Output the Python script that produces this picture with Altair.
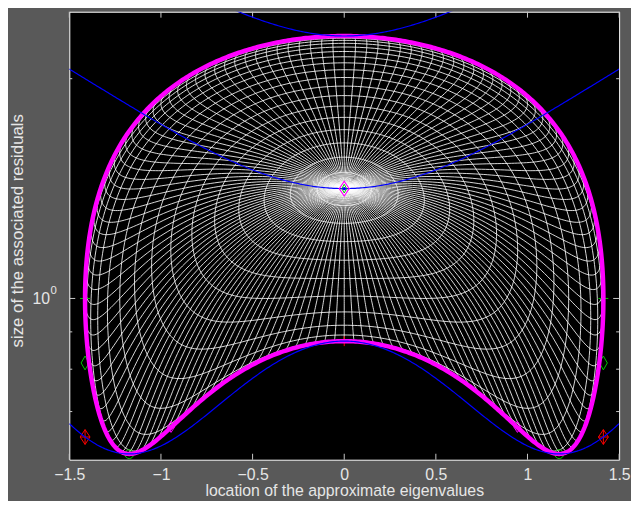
import numpy as np
import pandas as pd
import altair as alt

alt.data_transformers.disable_max_rows()

# ---- values -------------------------------------------------------------
# 2x2 matrix behind the picture: Hermitian part has eigenvalues +-1.414,
# singular values 2.288 / 0.874, residual of the start vector e1 = 1.414
A_REAL = [[0.0, 1.7678], [1.0607, 0.0]]
A_IMAG = [[0.7071, 0.6124], [0.6124, -0.7071]]

LOOP_STEP_DEG = 6.0     # spacing of the closed white curves
RAY_STEP_DEG = 2.5      # spacing of the white curves leaving the centre

X_DOMAIN = [-1.5, 1.5]
Y_DOMAIN = [0.6014, 2.4703]
X_TICKS = [-1.5, -1.0, -0.5, 0.0, 0.5, 1.0, 1.5]
Y_MAJOR_TICKS = [1.0]
Y_MINOR_TICKS = [0.7, 0.8, 0.9, 2.0]

RED_DIAMOND_X = [-1.414, 1.414]
RED_DIAMOND_Y = [0.646, 0.646]
GREEN_DIAMOND_X = [-1.414, 1.414]
GREEN_DIAMOND_Y = [0.816, 0.816]
GREEN_CIRCLE_X = [-1.173, 1.173]
GREEN_CIRCLE_Y = [0.612, 0.612]
MAGENTA_DIAMOND_X = [-0.945, 0.945]
MAGENTA_DIAMOND_Y = [0.667, 0.667]
GREEN_PLUS_X = [-1.414, 1.414]
GREEN_PLUS_Y = [1.0, 1.0]
RED_PLUS_X = [0.0]
RED_PLUS_Y = [0.874]
CENTER_X = [0.0]
CENTER_Y = [1.414]

# ---- geometry --------------------------------------------------------------
A = np.array(A_REAL) + 1j * np.array(A_IMAG)


def rq(alpha, beta):
    u1 = np.cos(alpha / 2)
    u2 = np.exp(1j * beta) * np.sin(alpha / 2)
    a1 = A[0, 0] * u1 + A[0, 1] * u2
    a2 = A[1, 0] * u1 + A[1, 1] * u2
    th = (np.conj(u1) * a1 + np.conj(u2) * a2).real
    r = np.sqrt(np.abs(a1 - th * u1) ** 2 + np.abs(a2 - th * u2) ** 2)
    return th, r


sig = [np.array([[0, 1], [1, 0]]), np.array([[0, -1j], [1j, 0]]), np.array([[1, 0], [0, -1]])]
Hm = (A + A.conj().T) / 2
Gm = A.conj().T @ A
h = np.array([np.trace(Hm @ s).real / 2 for s in sig])
g = np.array([np.trace(Gm @ s).real / 2 for s in sig])
n = np.cross(h, g)
n = n / np.linalg.norm(n)
if n[2] < 0:
    n = -n
nxy = np.hypot(n[0], n[1])
bstar = np.arctan2(n[1], n[0])

rows = []
# curves leaving the start vector, up to the fold
for j, b in enumerate(np.deg2rad(np.arange(0, 360 - 1e-9, RAY_STEP_DEG))):
    p = n[0] * np.cos(b) + n[1] * np.sin(b)
    af = np.arctan2(n[2], -p)
    als = np.linspace(0, af, 81)
    th, r = rq(als, np.full_like(als, b))
    rows.append(pd.DataFrame({"x": th, "r": r, "cid": f"R{j}", "k": np.arange(len(als))}))
# curves at fixed distance from the start vector
for i, a in enumerate(np.deg2rad(np.arange(LOOP_STEP_DEG, 180, LOOP_STEP_DEG))):
    thr = -n[2] * np.cos(a) / (np.sin(a) * nxy)
    if thr >= 1:
        continue
    if thr <= -1:
        bs = np.linspace(0, 2 * np.pi, 361)
    else:
        d = np.arccos(thr)
        bs = np.linspace(bstar - d, bstar + d, max(30, int(np.rad2deg(2 * d) * 1.2)))
    th, r = rq(np.full_like(bs, a), bs)
    rows.append(pd.DataFrame({"x": th, "r": r, "cid": f"L{i}", "k": np.arange(len(bs))}))
mesh_df = pd.concat(rows, ignore_index=True).round(4)

# boundary (fold): great circle through Hermitian-part and A*A directions
ea = h / np.linalg.norm(h)
gp = g - g.dot(ea) * ea
eb = gp / np.linalg.norm(gp)
t = np.linspace(0, 2 * np.pi, 721)
S = np.outer(np.cos(t), ea) + np.outer(np.sin(t), eb)
bth, br = rq(np.arccos(np.clip(S[:, 2], -1, 1)), np.arctan2(S[:, 1], S[:, 0]))
bound_df = pd.DataFrame({"x": bth, "r": br, "k": np.arange(len(t))}).round(4)

xs = np.linspace(-1.5, 1.5, 301)
sv = np.array([np.linalg.svd(A - x * np.eye(2), compute_uv=False) for x in xs])
start = np.array([np.linalg.norm((A - x * np.eye(2))[:, 0]) for x in xs])
blue_df = pd.concat([
    pd.DataFrame({"x": xs, "r": start, "cid": "b1"}),
    pd.DataFrame({"x": xs, "r": sv[:, 0], "cid": "b2"}),
    pd.DataFrame({"x": xs, "r": sv[:, 1], "cid": "b3"}),
], ignore_index=True).round(4)

# ---- style -----------------------------------------------------------------
W, H = 556, 453
BG = "#595959"
TXT = "#e6e6e6"
TICK = "#c8c8c8"
FONT = "Liberation Sans"

xsc = alt.Scale(domain=X_DOMAIN, nice=False, zero=False)
ysc = alt.Scale(type="log", domain=Y_DOMAIN, nice=False)

xaxis = alt.Axis(values=X_TICKS, format="~g", ticks=False, domain=False, grid=False,
                 labelFont=FONT, labelFontSize=16, labelColor=TXT, labelPadding=7,
                 labelFlush=False, labelOverlap=False,
                 title="location of the approximate eigenvalues", titleFont=FONT,
                 titleFontSize=16, titleFontWeight="normal", titleColor=TXT,
                 titleY=36, titleBaseline="alphabetic")
yaxis = alt.Axis(values=[1.0], labelExpr="'10'", ticks=False, domain=False, grid=False,
                 labelFont=FONT, labelFontSize=16, labelColor=TXT, labelPadding=20,
                 title="size of the associated residuals", titleFont=FONT,
                 titleFontSize=17, titleFontWeight="normal", titleColor=TXT,
                 titleX=-47, titleY=221, titleAngle=270, titleBaseline="alphabetic",
                 titleAlign="center")


def XE(f):
    return alt.X(f"{f}:Q", scale=xsc, axis=xaxis)


def YE(f):
    return alt.Y(f"{f}:Q", scale=ysc, axis=yaxis)


mesh = alt.Chart(mesh_df).mark_line(color="white", strokeWidth=0.85, clip=True).encode(
    x=XE("x"), y=YE("r"), detail="cid:N", order="k:Q")

xt = pd.DataFrame({"v": X_TICKS})
ytM = pd.DataFrame({"v": Y_MAJOR_TICKS})
ytm = pd.DataFrame({"v": Y_MINOR_TICKS})
rule = dict(color=TICK, strokeWidth=1)
ticks = [
    alt.Chart(xt).mark_rule(**rule).encode(x=XE("v"), y=alt.value(H), y2=alt.value(H - 6)),
    alt.Chart(xt).mark_rule(**rule).encode(x=XE("v"), y=alt.value(0), y2=alt.value(6)),
    alt.Chart(ytM).mark_rule(**rule).encode(y=YE("v"), x=alt.value(0), x2=alt.value(6)),
    alt.Chart(ytM).mark_rule(**rule).encode(y=YE("v"), x=alt.value(W), x2=alt.value(W - 6)),
    alt.Chart(ytm).mark_rule(**rule).encode(y=YE("v"), x=alt.value(0), x2=alt.value(3)),
    alt.Chart(ytm).mark_rule(**rule).encode(y=YE("v"), x=alt.value(W), x2=alt.value(W - 3)),
]

sup = alt.Chart(pd.DataFrame({"v": [1.0], "t": ["0"]})).mark_text(
    align="left", baseline="middle", dy=-8, fontSize=11.5, font=FONT, color=TXT).encode(
    y=YE("v"), x=alt.value(-19), text="t:N")


def pts(xv, yv, shape, color, size, filled=False, sw=1):
    df = pd.DataFrame({"x": xv, "r": yv})
    if filled:
        m = alt.Chart(df).mark_point(shape=shape, filled=True, color=color, size=size, opacity=1)
    else:
        m = alt.Chart(df).mark_point(shape=shape, filled=False, stroke=color, strokeWidth=sw,
                                     size=size, opacity=1)
    return m.encode(x=XE("x"), y=YE("r"))


DIA_RED = "M0,-1.5L1,0L0,1.5L-1,0Z M0,-1.5L0,1.5 M-1,0L1,0"
DIA_TALL = "M0,-1.75L1,0L0,1.75L-1,0Z"
DIA_MID = "M0,-1.5L1,0L0,1.5L-1,0Z"
PLUS = "M-1,0L1,0 M0,-1L0,1"

under = [
    pts(RED_DIAMOND_X, RED_DIAMOND_Y, DIA_RED, "#ff0000", 100),
    pts(GREEN_DIAMOND_X, GREEN_DIAMOND_Y, DIA_TALL, "#00c800", 64),
    pts(GREEN_CIRCLE_X, GREEN_CIRCLE_Y, "circle", "#00c800", 80),
    pts(MAGENTA_DIAMOND_X, MAGENTA_DIAMOND_Y, DIA_MID, "#ff00ff", 56),
    pts(GREEN_PLUS_X, GREEN_PLUS_Y, PLUS, "#00c800", 100),
    pts(RED_PLUS_X, RED_PLUS_Y, PLUS, "#ff0000", 100),
]

magenta = alt.Chart(bound_df).mark_line(color="#ff00ff", strokeWidth=4.5, clip=True).encode(
    x=XE("x"), y=YE("r"), order="k:Q")
blue = alt.Chart(blue_df).mark_line(color="#0000ff", strokeWidth=1.2, clip=True).encode(
    x=XE("x"), y=YE("r"), detail="cid:N")

center = [
    pts(CENTER_X, CENTER_Y, DIA_MID, "#ff00ff", 100, sw=1.2),
    pts(CENTER_X, CENTER_Y, DIA_TALL, "#00c800", 25),
    pts(CENTER_X, CENTER_Y, "circle", "#0000ff", 12, filled=True),
]

chart = alt.layer(mesh, *ticks, sup, *under, magenta, blue, *center).properties(
    width=W, height=H,
    autosize=alt.AutoSizeParams(type="none"),
    padding={"left": 62, "top": 1, "right": 12, "bottom": 39},
).configure(background=BG, font=FONT).configure_view(fill="black", stroke="white", strokeWidth=1)

chart.save("out.html", embed_options={"renderer": "svg", "actions": False})
